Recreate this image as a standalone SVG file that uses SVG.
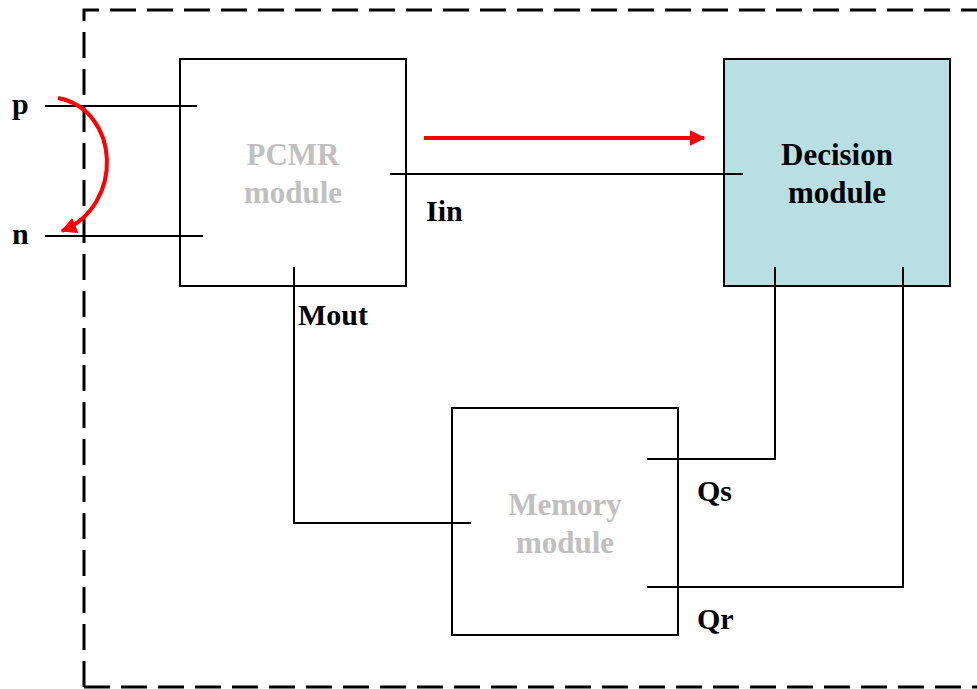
<svg xmlns="http://www.w3.org/2000/svg" width="977" height="689" viewBox="0 0 977 689">
<defs>
<style>
.box{fill:#fff;stroke:#000;stroke-width:2}
.wire{fill:none;stroke:#000;stroke-width:2}
.lbl{font-family:"Liberation Serif","Times New Roman",serif;font-weight:bold;font-size:30px;fill:#000}
.mod{font-family:"Liberation Serif","Times New Roman",serif;font-weight:bold;font-size:31px;text-anchor:middle}
.grey{fill:#C0C0C0}
</style>
<marker id="ah" viewBox="0 0 10 10" refX="9" refY="5" markerWidth="4" markerHeight="4" orient="auto" markerUnits="strokeWidth">
<path d="M0,0 L10,5 L0,10 z" fill="#FF0000"/>
</marker>
</defs>
<rect width="977" height="689" fill="#fff"/>
<path id="border" d="M84,687 L84,10 L985,10 M84,687 L985,687" fill="none" stroke="#000" stroke-width="3" stroke-dasharray="26,11"/>
<g id="pcmr">
<rect class="box" x="180" y="59" width="226" height="227"/>
<text class="mod grey" x="293" y="165">PCMR</text>
<text class="mod grey" x="293" y="203">module</text>
</g>
<g id="decision">
<rect class="box" x="724" y="59" width="226" height="227" style="fill:#BADFE3"/>
<text class="mod" x="837" y="165">Decision</text>
<text class="mod" x="837" y="203">module</text>
</g>
<g id="memory">
<rect class="box" x="452" y="408" width="226" height="227"/>
<text class="mod grey" x="565" y="515">Memory</text>
<text class="mod grey" x="565" y="553">module</text>
</g>
<g id="connectors">
<path class="wire" d="M45,106 L197,106"/>
<path class="wire" d="M45,236 L203,236"/>
<path class="wire" d="M390,174 L743,174"/>
<path class="wire" d="M294,267 L294,523 L471,523"/>
<path class="wire" d="M647,459 L775,459 L775,267"/>
<path class="wire" d="M647,587 L903,587 L903,267"/>
<path d="M424,138 L704,138" fill="none" stroke="#FF0000" stroke-width="4" marker-end="url(#ah)"/>
<path d="M58,98 C120,110 125,205 62,231" fill="none" stroke="#FF0000" stroke-width="4" marker-end="url(#ah)"/>
</g>
<g id="labels">
<text class="lbl" x="12" y="114">p</text>
<text class="lbl" x="12" y="244">n</text>
<text class="lbl" x="426" y="221">Iin</text>
<text class="lbl" x="298" y="325">Mout</text>
<text class="lbl" x="697" y="501">Qs</text>
<text class="lbl" x="697" y="629">Qr</text>
</g>
</svg>
